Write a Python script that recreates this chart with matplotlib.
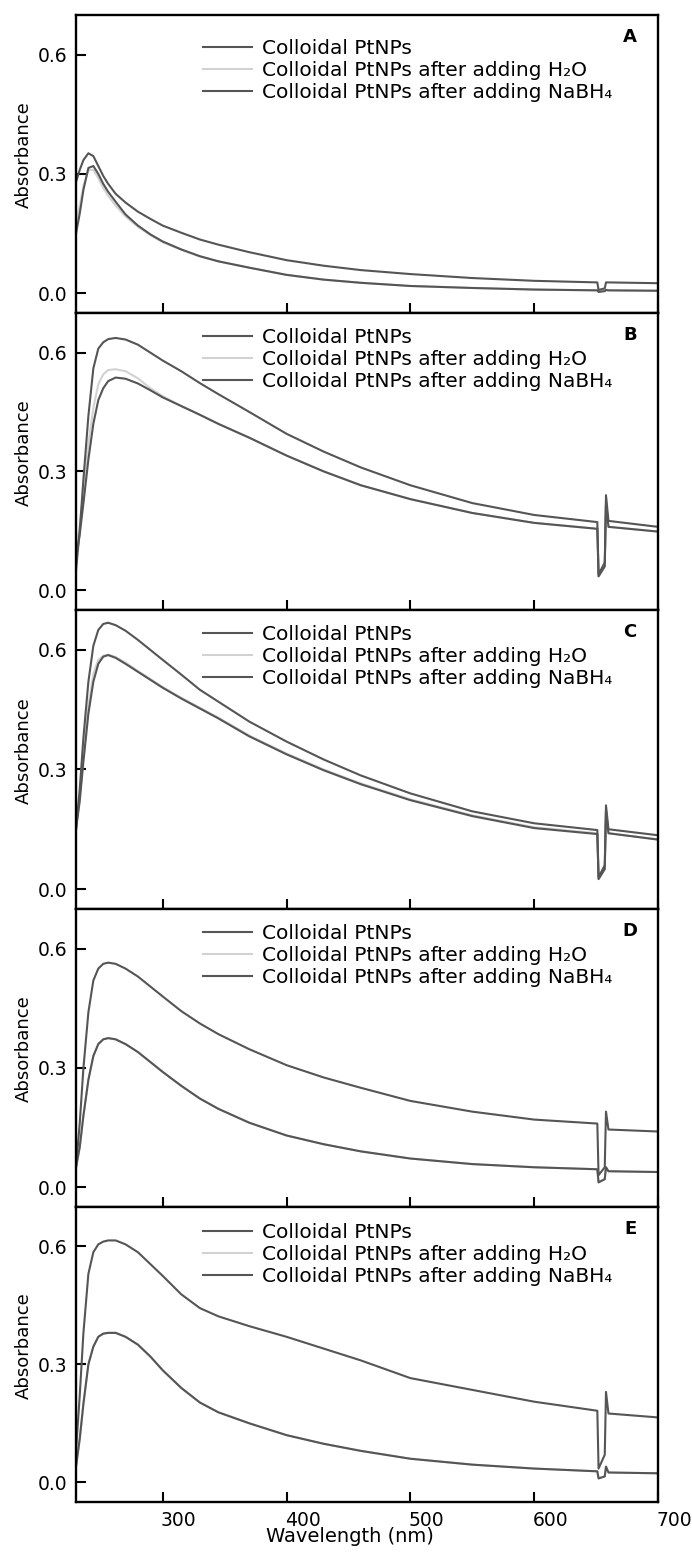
import matplotlib.pyplot as plt
import matplotlib.transforms as mtransforms

plt.rcParams['font.family'] = ['DejaVu Sans']

# shared wavelength grid (nm); the lamp artefact sits around 652-660 nm
wavelength = [230, 233, 236, 240, 244, 248, 252, 256, 262, 270, 280, 290, 300, 315, 330,
              345, 370, 400, 430, 460, 500, 550, 600, 651, 652, 657, 658, 660, 700]

labels = ['Colloidal PtNPs', 'Colloidal PtNPs after adding H\u2082O',
          'Colloidal PtNPs after adding NaBH\u2084']
panel_letters = ['A', 'B', 'C', 'D', 'E']

# Panel A
a_ptnps = [0.28, 0.31, 0.335, 0.352, 0.345, 0.32, 0.295, 0.275, 0.25, 0.228, 0.205, 0.187, 0.17, 0.152, 0.135,
           0.122, 0.103, 0.083, 0.069, 0.058, 0.048, 0.038, 0.031, 0.027, 0.008, 0.012, 0.027, 0.027, 0.025]
a_h2o = [0.18, 0.22, 0.27, 0.31, 0.31, 0.29, 0.265, 0.245, 0.22, 0.193, 0.167, 0.146, 0.128, 0.109, 0.092,
         0.08, 0.064, 0.046, 0.034, 0.026, 0.018, 0.013, 0.009, 0.007, 0.007, 0.007, 0.007, 0.007, 0.006]
a_nabh4 = [0.15, 0.20, 0.26, 0.315, 0.32, 0.30, 0.275, 0.255, 0.23, 0.198, 0.17, 0.148, 0.13, 0.11, 0.093,
           0.08, 0.064, 0.046, 0.034, 0.026, 0.018, 0.013, 0.009, 0.007, 0.003, 0.005, 0.008, 0.007, 0.006]

# Panel B
b_ptnps = [0.05, 0.15, 0.28, 0.44, 0.56, 0.61, 0.626, 0.634, 0.637, 0.633, 0.62, 0.60, 0.58, 0.553, 0.523,
           0.495, 0.45, 0.395, 0.35, 0.31, 0.265, 0.22, 0.19, 0.172, 0.04, 0.07, 0.24, 0.175, 0.16]
b_h2o = [0.10, 0.16, 0.25, 0.37, 0.46, 0.52, 0.545, 0.556, 0.558, 0.553, 0.535, 0.51, 0.49, 0.465, 0.443,
         0.42, 0.385, 0.34, 0.30, 0.265, 0.23, 0.195, 0.17, 0.155, 0.035, 0.06, 0.22, 0.16, 0.148]
b_nabh4 = [0.08, 0.14, 0.22, 0.33, 0.42, 0.48, 0.51, 0.528, 0.537, 0.534, 0.522, 0.505, 0.487, 0.465, 0.443,
           0.42, 0.385, 0.34, 0.30, 0.265, 0.23, 0.195, 0.17, 0.155, 0.035, 0.06, 0.22, 0.16, 0.148]

# Panel C
c_ptnps = [0.15, 0.25, 0.38, 0.52, 0.61, 0.65, 0.665, 0.668, 0.662, 0.648, 0.625, 0.60, 0.575, 0.538, 0.50,
           0.47, 0.42, 0.37, 0.325, 0.285, 0.24, 0.195, 0.165, 0.148, 0.03, 0.06, 0.21, 0.15, 0.135]
c_h2o = [0.15, 0.23, 0.34, 0.46, 0.54, 0.575, 0.585, 0.588, 0.582, 0.568, 0.547, 0.527, 0.507, 0.48, 0.455,
         0.43, 0.385, 0.34, 0.30, 0.265, 0.225, 0.185, 0.155, 0.14, 0.025, 0.05, 0.195, 0.14, 0.125]
c_nabh4 = [0.15, 0.22, 0.32, 0.44, 0.52, 0.565, 0.583, 0.587, 0.58, 0.565, 0.545, 0.525, 0.505, 0.478, 0.453,
           0.428, 0.383, 0.338, 0.298, 0.263, 0.223, 0.183, 0.153, 0.138, 0.025, 0.05, 0.195, 0.14, 0.124]

# Panel D
d_ptnps = [0.05, 0.16, 0.30, 0.44, 0.52, 0.55, 0.562, 0.565, 0.562, 0.55, 0.53, 0.505, 0.48, 0.443, 0.412,
           0.385, 0.347, 0.307, 0.276, 0.25, 0.217, 0.19, 0.17, 0.16, 0.03, 0.05, 0.19, 0.145, 0.14]
d_h2o = [0.05, 0.10, 0.18, 0.27, 0.33, 0.36, 0.372, 0.375, 0.372, 0.36, 0.34, 0.315, 0.29, 0.255, 0.223,
         0.197, 0.162, 0.13, 0.108, 0.09, 0.072, 0.058, 0.05, 0.045, 0.012, 0.02, 0.05, 0.04, 0.038]
d_nabh4 = [0.05, 0.10, 0.18, 0.27, 0.33, 0.36, 0.372, 0.375, 0.372, 0.36, 0.34, 0.315, 0.29, 0.255, 0.223,
           0.197, 0.162, 0.13, 0.108, 0.09, 0.072, 0.058, 0.05, 0.045, 0.012, 0.02, 0.05, 0.04, 0.038]

# Panel E
e_ptnps = [0.08, 0.22, 0.38, 0.53, 0.585, 0.605, 0.612, 0.615, 0.615, 0.605, 0.585, 0.555, 0.525, 0.478, 0.443,
           0.422, 0.397, 0.37, 0.34, 0.31, 0.265, 0.235, 0.205, 0.182, 0.035, 0.07, 0.23, 0.175, 0.165]
e_h2o = [0.04, 0.11, 0.20, 0.30, 0.345, 0.37, 0.378, 0.38, 0.38, 0.37, 0.35, 0.32, 0.285, 0.24, 0.203,
         0.178, 0.15, 0.12, 0.098, 0.08, 0.06, 0.045, 0.035, 0.028, 0.01, 0.015, 0.04, 0.025, 0.023]
e_nabh4 = [0.04, 0.11, 0.20, 0.30, 0.345, 0.37, 0.378, 0.38, 0.38, 0.37, 0.35, 0.32, 0.285, 0.24, 0.203,
           0.178, 0.15, 0.12, 0.098, 0.08, 0.06, 0.045, 0.035, 0.028, 0.01, 0.015, 0.04, 0.025, 0.023]

panels = [
    (a_ptnps, a_h2o, a_nabh4),
    (b_ptnps, b_h2o, b_nabh4),
    (c_ptnps, c_h2o, c_nabh4),
    (d_ptnps, d_h2o, d_nabh4),
    (e_ptnps, e_h2o, e_nabh4),
]

colors = ['#555555', '#d2d2d2', '#555555']
draw_order = [1, 0, 2]  # light curve underneath

W, H = 692, 1552
fig = plt.figure(figsize=(W / 100, H / 100), dpi=100)

left_px, right_px = 76, 658
edges_px = [15, 313, 610, 909, 1207, 1502]
legend_row1_px = [35, 26, 26, 26, 27]  # first legend row below panel top

for i, series in enumerate(panels):
    top, bottom = edges_px[i], edges_px[i + 1]
    h = bottom - top
    ax = fig.add_axes([left_px / W, 1 - bottom / H, (right_px - left_px) / W, h / H])

    lines = [None] * 3
    for k in draw_order:
        lines[k], = ax.plot(wavelength, series[k], color=colors[k], lw=1.5, label=labels[k])

    ax.set_xlim(230, 700)
    ax.set_ylim(-0.05, 0.70)
    ax.set_yticks([0.0, 0.3, 0.6])
    ax.set_yticklabels(['0.0', '0.3', '0.6'])
    ax.set_xticks([300, 400, 500, 600, 700])
    ax.tick_params(direction='in', length=7, width=1.5, labelsize=13.5, pad=6.5)
    for sp in ax.spines.values():
        sp.set_linewidth(1.7)

    ax.set_ylabel('Absorbance', fontsize=13)
    ax.yaxis.set_label_coords(-(left_px - 33) / (right_px - left_px), 0.53)

    leg = ax.legend(handles=lines, loc='upper left',
                    bbox_to_anchor=(0.218, 1 - (legend_row1_px[i] - 11) / h),
                    frameon=False, fontsize=14.5, handlelength=2.45, handletextpad=0.5,
                    labelspacing=0.16, borderpad=0, borderaxespad=0)

    ax.text((630 - left_px) / (right_px - left_px), 1 - 22 / h, panel_letters[i],
            transform=ax.transAxes, fontsize=13, fontweight='bold', ha='center', va='center')

    if i < 4:
        ax.tick_params(labelbottom=False)
    else:
        ax.set_xlabel('Wavelength (nm)', fontsize=14)
        ax.xaxis.set_label_coords((350 - left_px) / (right_px - left_px), -25 / h)
        shift = mtransforms.ScaledTranslation(16 / 100, 0, fig.dpi_scale_trans)
        for lbl in ax.get_xticklabels():
            lbl.set_transform(lbl.get_transform() + shift)

fig.savefig('out.png', dpi=100)
